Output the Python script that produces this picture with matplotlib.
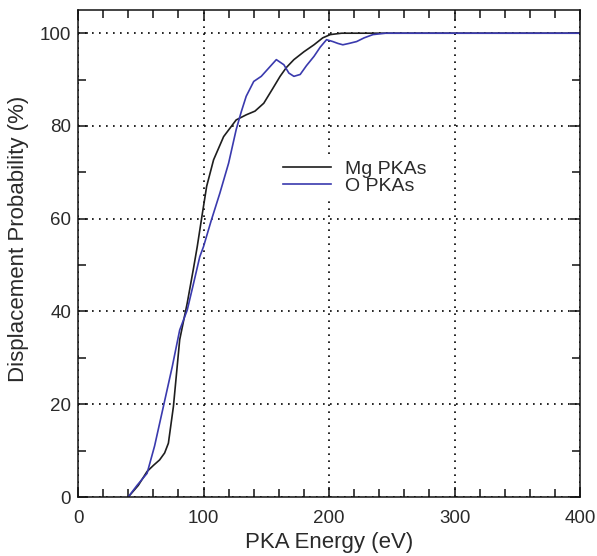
import matplotlib.pyplot as plt
from matplotlib.ticker import MultipleLocator

plt.rcParams['font.family'] = ['Liberation Sans', 'DejaVu Sans']

# values
mg_energy = [40, 48, 55, 60, 65, 69, 72, 76, 81, 87, 92, 95, 99, 102.5, 108, 116,
             126, 134, 141, 148, 155, 161, 166, 172, 180, 188, 195, 201, 210, 400]
mg_prob = [0, 2.5, 5.5, 6.8, 8, 9.5, 11.6, 19.5, 33.9, 41.8, 49.3, 54, 61, 67, 72.7, 77.7,
           81.3, 82.4, 83.2, 84.9, 88, 90.7, 92.6, 94.3, 96, 97.5, 99, 99.7, 100, 100]

o_energy = [40, 47, 55, 61, 68, 75, 81, 87, 92, 97, 100, 106, 113, 120, 126, 130, 134,
            140, 146, 152, 158, 164, 168, 172, 177, 182, 188, 193, 198, 203, 207, 211,
            216, 222, 228, 235, 245, 400]
o_prob = [0, 2.5, 5.1, 11, 19.5, 28, 36, 40.3, 46, 51.8, 54, 59.5, 65.5, 72, 79.2, 83,
          86.4, 89.6, 90.7, 92.5, 94.3, 93.2, 91.4, 90.7, 91.1, 93, 95, 97, 98.6, 98.2,
          97.8, 97.5, 97.8, 98.2, 99, 99.7, 100, 100]

fig = plt.figure(figsize=(5.97, 5.56), dpi=100)
ax = fig.add_axes([0.1307, 0.1061, 0.8409, 0.8759])

ax.plot(mg_energy, mg_prob, color='#1e1e1e', lw=1.2, label='Mg PKAs')
ax.plot(o_energy, o_prob, color='#3a3aae', lw=1.2, label='O PKAs')

ax.set_xlim(0, 400)
ax.set_ylim(0, 105)
ax.xaxis.set_major_locator(MultipleLocator(100))
ax.xaxis.set_minor_locator(MultipleLocator(20))
ax.yaxis.set_major_locator(MultipleLocator(20))
ax.yaxis.set_minor_locator(MultipleLocator(10))
ax.tick_params(which='both', direction='in', top=True, right=True, labelsize=13.5,
               color='#111111', width=1.1, labelcolor='#2a2a2a')
ax.tick_params(which='major', length=7)
ax.tick_params(which='minor', length=5.5)
ax.tick_params(axis='y', pad=5)
ax.tick_params(axis='x', pad=9)
for s in ax.spines.values():
    s.set_linewidth(1.1)
    s.set_color('#111111')
ax.grid(True, which='major', color='black', linestyle=(0, (1, 3.2)), linewidth=1.2)

ax.set_xlabel('PKA Energy (eV)', fontsize=16, color='#2a2a2a', labelpad=4)
ax.set_ylabel('Displacement Probability (%)', fontsize=16, color='#2a2a2a')
ax.yaxis.set_label_coords(-0.097, 0.53)

leg = ax.legend(loc='center left', bbox_to_anchor=(0.40, 0.656), fontsize=14,
                frameon=True, fancybox=False, edgecolor='none', facecolor='white',
                framealpha=1, handlelength=2.5, labelspacing=0.0, borderpad=0.2,
                handletextpad=0.72, borderaxespad=0)
for t in leg.get_texts():
    t.set_color('#2a2a2a')

plt.savefig('out.png', dpi=100)
